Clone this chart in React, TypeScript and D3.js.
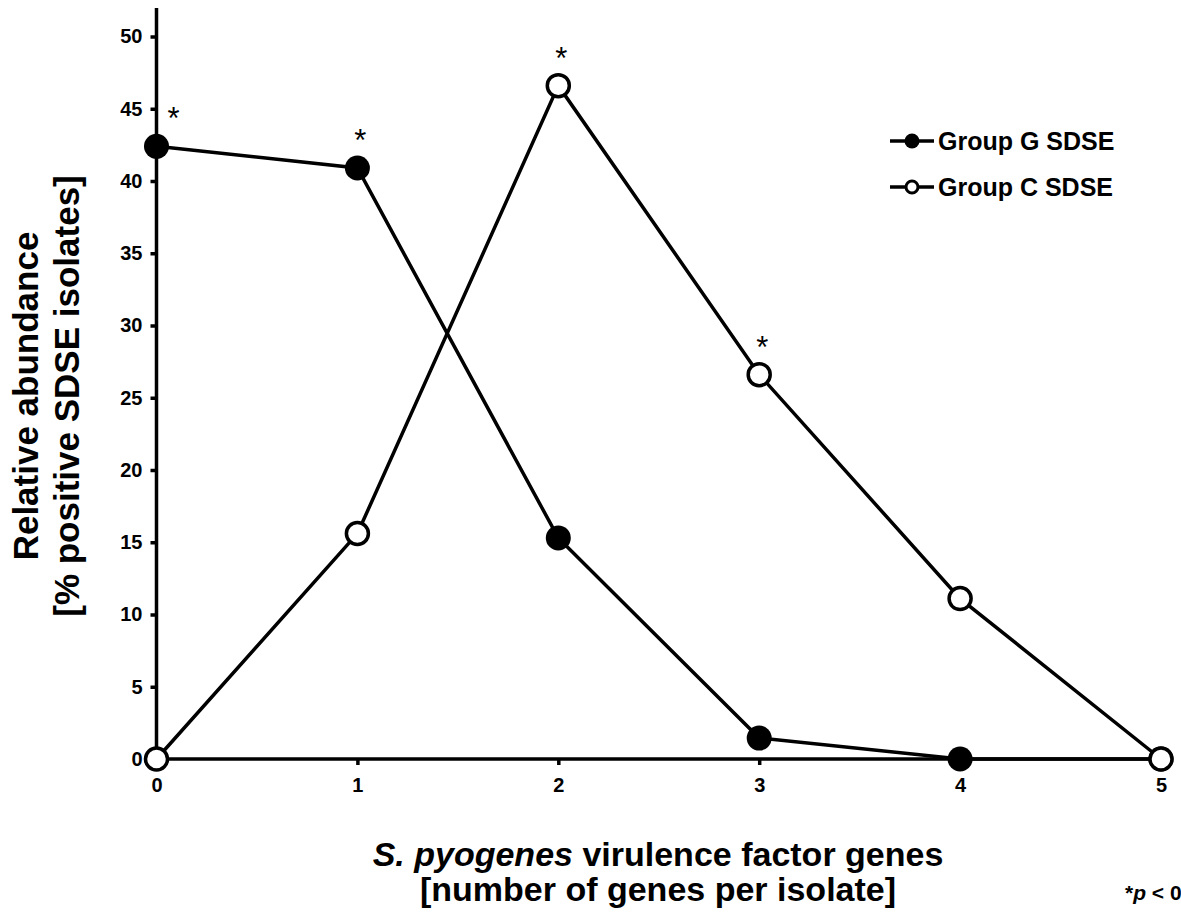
import { useRef, useEffect } from 'react';
import * as d3 from 'd3';

const genes = [0, 1, 2, 3, 4, 5];
const groupG = [42.4, 40.9, 15.3, 1.45, 0, 0];
const groupC = [0, 15.6, 46.6, 26.6, 11.1, 0];
const yTicks = [0, 5, 10, 15, 20, 25, 30, 35, 40, 45, 50];
// points carrying a significance star: [series, index]
const starred: [string, number][] = [['G', 0], ['G', 1], ['C', 2], ['C', 3]];

export default function App() {
  const svgRef = useRef<SVGSVGElement>(null);

  useEffect(() => {
    document.body.style.margin = '0';
    const svgWidth = 1181;
    const svgHeight = 915;
    const font = '"Liberation Sans", Arial, sans-serif';

    const svg = d3.select(svgRef.current).attr('width', svgWidth).attr('height', svgHeight);
    svg.selectAll('*').remove();

    const xScale = d3.scaleLinear().domain([0, 5]).range([156.5, 1161]);
    const yScale = d3.scaleLinear().domain([0, 50]).range([759, 36.5]);

    // y axis
    const yAxis = d3.axisLeft(yScale).tickValues(yTicks).tickSize(6).tickSizeOuter(0).tickPadding(8);
    const yAxisDraw = svg.append('g').attr('transform', `translate(${xScale(0)}, 0)`).call(yAxis);
    yAxisDraw.select('.domain').remove();
    svg
      .append('line')
      .attr('x1', xScale(0))
      .attr('x2', xScale(0))
      .attr('y1', 8)
      .attr('y2', yScale(0))
      .attr('stroke', '#000')
      .attr('stroke-width', 3.5);

    // x axis
    const xAxis = d3
      .axisBottom(xScale)
      .tickValues(genes)
      .tickFormat(d3.format('d'))
      .tickSize(6)
      .tickSizeOuter(0)
      .tickPadding(13);
    const xAxisDraw = svg.append('g').attr('transform', `translate(0, ${yScale(0)})`).call(xAxis);
    xAxisDraw.select('.domain').remove();
    svg
      .append('line')
      .attr('x1', xScale(0))
      .attr('x2', xScale(5))
      .attr('y1', yScale(0))
      .attr('y2', yScale(0))
      .attr('stroke', '#000')
      .attr('stroke-width', 3.5);

    svg
      .selectAll('.tick line')
      .attr('stroke', '#000')
      .attr('stroke-width', 3.5);
    svg
      .selectAll('.tick text')
      .attr('font-family', font)
      .attr('font-weight', 'bold')
      .attr('font-size', 20)
      .attr('fill', '#000');

    const line = d3
      .line<number>()
      .x((_, i) => xScale(genes[i]))
      .y((d) => yScale(d));

    const drawSeries = (values: number[], fill: string) => {
      svg
        .append('path')
        .datum(values)
        .attr('d', line)
        .attr('fill', 'none')
        .attr('stroke', '#000')
        .attr('stroke-width', 3.5);
      svg
        .append('g')
        .selectAll('circle')
        .data(values)
        .join('circle')
        .attr('cx', (_, i) => xScale(genes[i]))
        .attr('cy', (d) => yScale(d))
        .attr('r', fill === '#000' ? 12.5 : 11)
        .attr('fill', fill)
        .attr('stroke', '#000')
        .attr('stroke-width', fill === '#000' ? 0 : 3.5);
    };
    drawSeries(groupG, '#000');
    drawSeries(groupC, '#fff');

    // significance stars
    svg
      .append('g')
      .selectAll('text')
      .data(starred)
      .join('text')
      .attr('x', (d) => xScale(genes[d[1]]) + (d[1] === 0 ? 17 : 3))
      .attr('y', (d) => yScale(d[0] === 'G' ? groupG[d[1]] : groupC[d[1]]) - 17)
      .attr('text-anchor', 'middle')
      .attr('font-family', font)
      .attr('font-size', 31)
      .text('*');

    // legend
    const legend = svg.append('g');
    const legendItems = [
      { label: 'Group G SDSE', fill: '#000', y: 141 },
      { label: 'Group C SDSE', fill: '#fff', y: 187 },
    ];
    legendItems.forEach((item) => {
      legend
        .append('line')
        .attr('x1', 890)
        .attr('x2', 934)
        .attr('y1', item.y)
        .attr('y2', item.y)
        .attr('stroke', '#000')
        .attr('stroke-width', 3.5);
      legend
        .append('circle')
        .attr('cx', 912)
        .attr('cy', item.y)
        .attr('r', item.fill === '#000' ? 7.5 : 6)
        .attr('fill', item.fill)
        .attr('stroke', '#000')
        .attr('stroke-width', item.fill === '#000' ? 0 : 3);
      legend
        .append('text')
        .attr('x', 938)
        .attr('y', item.y + 9)
        .attr('font-family', font)
        .attr('font-weight', 'bold')
        .attr('font-size', 25)
        .text(item.label);
    });

    // y title
    const yTitle = svg
      .append('text')
      .attr('transform', `translate(0, 396) rotate(-90)`)
      .attr('text-anchor', 'middle')
      .attr('font-family', font)
      .attr('font-weight', 'bold')
      .attr('font-size', 35);
    yTitle.append('tspan').attr('x', 0).attr('y', 38).text('Relative abundance');
    yTitle.append('tspan').attr('x', 0).attr('y', 79).text('[% positive SDSE isolates]');

    // x title
    const xTitle = svg
      .append('text')
      .attr('text-anchor', 'middle')
      .attr('font-family', font)
      .attr('font-weight', 'bold')
      .attr('font-size', 34);
    const first = xTitle.append('tspan').attr('x', 658).attr('y', 866);
    first.append('tspan').attr('font-style', 'italic').text('S. pyogenes');
    first.append('tspan').text(' virulence factor genes');
    xTitle.append('tspan').attr('x', 658).attr('y', 901).text('[number of genes per isolate]');

    // footnote (runs off the right edge as in the source figure)
    const note = svg
      .append('text')
      .attr('x', 1125)
      .attr('y', 900)
      .attr('font-family', font)
      .attr('font-weight', 'bold')
      .attr('font-size', 21);
    note.append('tspan').text('*');
    note.append('tspan').attr('font-style', 'italic').text('p');
    note.append('tspan').text(' < 0.05');
  }, []);

  return (
    <div>
      <svg ref={svgRef} style={{ display: 'block' }} />
    </div>
  );
}
